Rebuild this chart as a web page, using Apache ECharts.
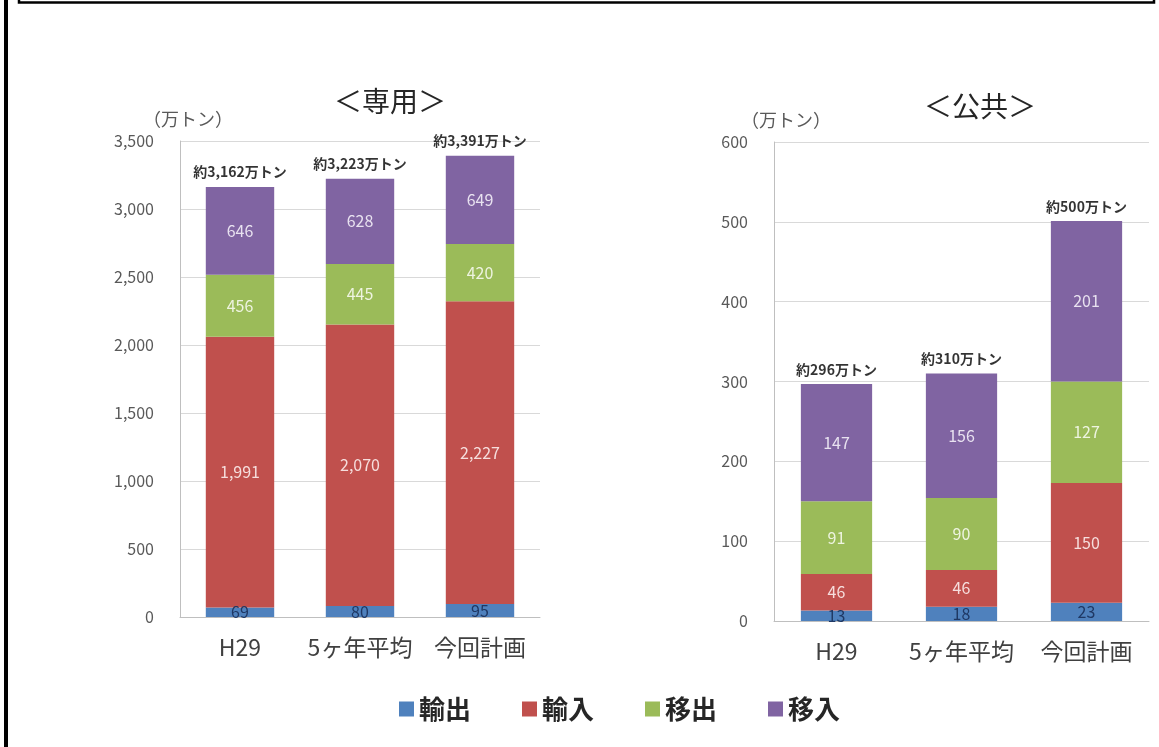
<!DOCTYPE html>
<html>
<head>
<meta charset="utf-8">
<script src="https://cdn.jsdelivr.net/npm/echarts@6/dist/echarts.min.js"></script>
<style>
html,body{margin:0;padding:0;background:#fff;}
#c{width:1159px;height:747px;}
</style>
</head>
<body>
<div id="c"></div>
<script>
const categories = ['H29', '5ヶ年平均', '今回計画'];
const seriesNames = ['輸出', '輸入', '移出', '移入'];
// 専用
const senyoExport = [69, 80, 95];
const senyoImport = [1991, 2070, 2227];
const senyoOut = [456, 445, 420];
const senyoIn = [646, 628, 649];
const senyoTotals = [3162, 3223, 3391];
// 公共
const kokyoExport = [13, 18, 23];
const kokyoImport = [46, 46, 150];
const kokyoOut = [91, 90, 127];
const kokyoIn = [147, 156, 201];
const kokyoTotals = [296, 310, 500];

const colors = ['#4F81BD', '#C0504D', '#9BBB59', '#8064A2'];
const labelColors = ['#1F3864', '#F6DEDD', '#EEF4E0', '#E8E2F0'];
const FONT = '"Noto Sans CJK JP", "Noto Sans", sans-serif';

const fmt = v => Number(v).toLocaleString('en-US');

function stackSeries(data, axis, stackName) {
  return data.map((d, i) => ({
    name: seriesNames[i],
    type: 'bar',
    stack: stackName,
    xAxisIndex: axis,
    yAxisIndex: axis,
    barWidth: '57%',
    itemStyle: { color: colors[i] },
    label: {
      show: true,
      position: 'inside',
      color: labelColors[i],
      fontSize: 16,
      fontFamily: FONT,
      formatter: p => fmt(p.value)
    },
    data: d
  }));
}

function totalSeries(totals, axis) {
  return {
    type: 'scatter',
    xAxisIndex: axis,
    yAxisIndex: axis,
    symbolSize: 0,
    silent: true,
    z: 10,
    label: {
      show: true,
      position: 'top',
      distance: 8,
      color: '#000',
      fontSize: 14,
      fontWeight: 'bold',
      fontFamily: FONT,
      formatter: p => '約' + fmt(totals[p.dataIndex]) + '万トン'
    },
    data: totals
  };
}

const axisLabelY = { color: '#595959', fontSize: 16, fontFamily: FONT, margin: 26, formatter: v => fmt(v) };
const axisLabelX = { color: '#404040', fontSize: 23, fontFamily: FONT, margin: 19, interval: 0 };

const chart = echarts.init(document.getElementById('c'), null, { renderer: 'canvas' });
chart.setOption({
  backgroundColor: '#fff',
  animation: false,
  title: [
    { text: '＜専用＞', left: 385, top: 82, textAlign: 'center',
      textStyle: { fontSize: 28, fontWeight: 'normal', color: '#262626', fontFamily: FONT } },
    { text: '＜公共＞', left: 975, top: 87, textAlign: 'center',
      textStyle: { fontSize: 28, fontWeight: 'normal', color: '#262626', fontFamily: FONT } },
    { text: '（万トン）', left: 183, top: 105, textAlign: 'center',
      textStyle: { fontSize: 18, fontWeight: 'normal', color: '#595959', fontFamily: FONT } },
    { text: '（万トン）', left: 781, top: 106, textAlign: 'center',
      textStyle: { fontSize: 18, fontWeight: 'normal', color: '#595959', fontFamily: FONT } }
  ],
  legend: {
    data: seriesNames,
    left: 394,
    top: 691,
    icon: 'rect',
    itemWidth: 15,
    itemHeight: 15,
    itemGap: 51,
    textStyle: { fontSize: 26, fontWeight: 'bold', color: '#262626', fontFamily: FONT }
  },
  grid: [
    { left: 180, top: 141, width: 360, height: 476 },
    { left: 774, top: 142, width: 375, height: 479 }
  ],
  xAxis: [
    { type: 'category', gridIndex: 0, data: categories,
      axisLine: { lineStyle: { color: '#BFBFBF' } }, axisTick: { show: false }, axisLabel: axisLabelX },
    { type: 'category', gridIndex: 1, data: categories,
      axisLine: { lineStyle: { color: '#BFBFBF' } }, axisTick: { show: false }, axisLabel: axisLabelX }
  ],
  yAxis: [
    { type: 'value', gridIndex: 0, min: 0, max: 3500, interval: 500,
      axisLine: { show: true, lineStyle: { color: '#BFBFBF' } }, axisTick: { show: false },
      splitLine: { lineStyle: { color: '#D9D9D9' } }, axisLabel: axisLabelY },
    { type: 'value', gridIndex: 1, min: 0, max: 600, interval: 100,
      axisLine: { show: true, lineStyle: { color: '#BFBFBF' } }, axisTick: { show: false },
      splitLine: { lineStyle: { color: '#D9D9D9' } }, axisLabel: axisLabelY }
  ],
  series: [
    ...stackSeries([senyoExport, senyoImport, senyoOut, senyoIn], 0, 'senyo'),
    totalSeries(senyoTotals, 0),
    ...stackSeries([kokyoExport, kokyoImport, kokyoOut, kokyoIn], 1, 'kokyo'),
    totalSeries(kokyoTotals, 1)
  ],
  graphic: [
    { type: 'rect', shape: { x: 4, y: 0, width: 4, height: 747 }, style: { fill: '#000' }, silent: true },
    { type: 'rect', shape: { x: 19, y: -6, width: 1135, height: 8.5 }, style: { fill: 'none', stroke: '#000', lineWidth: 2.5 }, silent: true }
  ]
});
</script>
</body>
</html>
